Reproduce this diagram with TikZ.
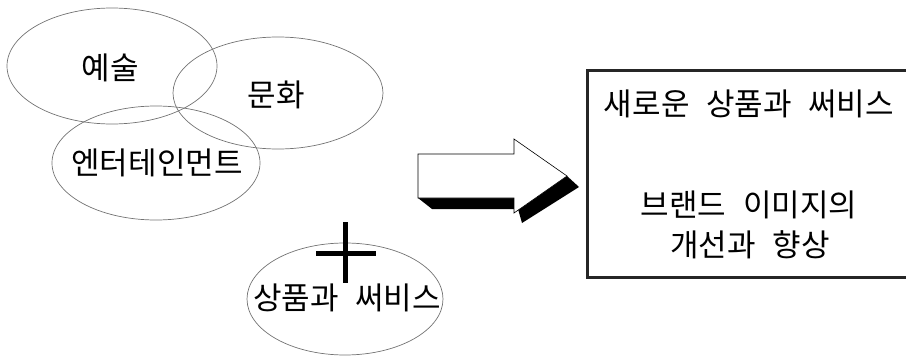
\documentclass[tikz,border=0pt]{standalone}
\usepackage{fontspec}
\newfontfamily\kr[WordSpace=2.4]{Noto Sans CJK KR}
\usetikzlibrary{shapes.geometric}
\begin{document}
\begin{tikzpicture}[x=1pt,y=-1pt,
  oval/.style={ellipse, draw=black!55, line width=0.7pt, inner sep=0pt},
  txt/.style={font=\kr\fontsize{31}{34}\selectfont, inner sep=0pt}]
\useasboundingbox (0,0) rectangle (906,356);
% ellipses
\node[oval, minimum width=210pt, minimum height=116pt] (art) at (112,66) {};
\node[oval, minimum width=210pt, minimum height=112pt] (culture) at (278,93) {};
\node[oval, minimum width=208pt, minimum height=114pt] (ent) at (156,163) {};
\node[oval, minimum width=196pt, minimum height=112pt] (prod) at (345,299) {};
\node[txt] (tart) at (110,68) {예술};
\node[txt] (tcul) at (276,95) {문화};
\node[txt] (tent) at (157,163) {엔터테인먼트};
\node[txt] (tprod) at (347,298) {상품과 써비스};
% cross
\draw[line width=5pt] (345,222) -- (345,283);
\draw[line width=5pt] (316,253.5) -- (376,253.5);
% 3D arrow
\fill[black] (418,198) -- (432,209) -- (518,209) -- (522,223) -- (579,187) -- (567,176) -- (514,213) -- (514,198) -- cycle;
\filldraw[fill=white, draw=black, line width=0.6pt] (418,154) -- (514,154) -- (514,139) -- (567,176) -- (514,213) -- (514,198) -- (418,198) -- cycle;
% result box (right side runs off the picture)
\draw[black!85, line width=3pt] (930,70) -- (587,70) -- (587,277) -- (930,277);
\coordinate (boxc) at (749,174);
\node[txt] (r1) at (749,104) {새로운 상품과 써비스};
\node[txt] (r2) at (749,205) {브랜드 이미지의};
\node[txt] (r3) at (750,245) {개선과 향상};
\end{tikzpicture}
\end{document}
